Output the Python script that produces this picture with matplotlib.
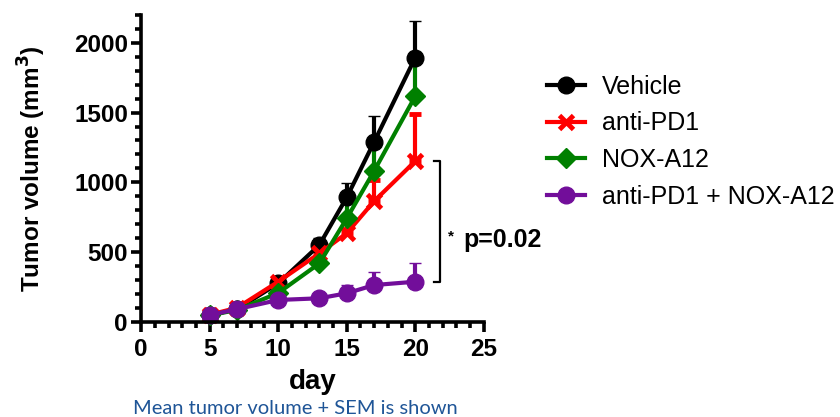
import matplotlib
matplotlib.use("Agg")
import matplotlib.pyplot as plt
from matplotlib.ticker import MultipleLocator

days = [5, 7, 10, 13, 15, 17, 20]
vehicle = [48, 90, 275, 550, 892, 1290, 1895]
vehicle_sem = [10, 15, 30, 50, 105, 185, 265]
antipd1 = [50, 100, 287, 490, 635, 865, 1152]
antipd1_sem = [10, 15, 25, 40, 120, 150, 335]
nox = [45, 85, 206, 418, 741, 1082, 1618]
nox_sem = [8, 12, 25, 108, 155, 244, 317]
combo = [48, 90, 156, 168, 204, 263, 287]
combo_sem = [8, 10, 15, 15, 59, 95, 131]
labels = ["Vehicle", "anti-PD1", "NOX-A12", "anti-PD1 + NOX-A12"]
colors = ["#000000", "#FF0000", "#008000", "#720E9A"]
markers = ["o", "x", "D", "o"]

plt.rcParams['font.family'] = ['Liberation Sans', 'DejaVu Sans']

fig = plt.figure(figsize=(8.4, 4.17), dpi=100)
ax = fig.add_axes([0.168, 0.2285, 0.408, 0.7355])

series = [(vehicle, vehicle_sem), (antipd1, antipd1_sem), (nox, nox_sem), (combo, combo_sem)]
handles = []
for (vals, sem), lab, c, m in zip(series, labels, colors, markers):
    ms = 12 if m == "o" else (10 if m == "D" else 10.5)
    mew = 3.5 if m == "x" else 1
    cont = ax.errorbar(days, vals, yerr=[[0]*len(sem), sem], color=c, lw=3,
                       marker=m, ms=ms, mew=mew, mec=c, mfc=c,
                       capsize=4.5, capthick=3, elinewidth=3, label=lab, clip_on=False)
    handles.append(cont[0])

ax.set_xlim(0, 25)
ax.set_ylim(0, 2200)
ax.xaxis.set_major_locator(MultipleLocator(5))
ax.xaxis.set_minor_locator(MultipleLocator(1))
ax.yaxis.set_major_locator(MultipleLocator(500))
ax.yaxis.set_minor_locator(MultipleLocator(100))
for s in ["top", "right"]:
    ax.spines[s].set_visible(False)
for s in ["left", "bottom"]:
    ax.spines[s].set_linewidth(2.6)
ax.tick_params(which="major", length=7.5, width=2.6, labelsize=17.5, pad=2)
ax.tick_params(axis="x", which="major", pad=4)
ax.tick_params(which="minor", length=4.5, width=2.6)
for t in ax.get_xticklabels() + ax.get_yticklabels():
    t.set_fontweight("bold")
ax.set_xlabel("day", fontsize=20, fontweight="bold", labelpad=6)
ax.set_ylabel("Tumor volume (mm$^\\mathbf{3}$)", fontsize=17.5, fontweight="bold", labelpad=19)

# significance bracket
bx = 21.8
ax.plot([bx - 0.4, bx, bx, bx - 0.4], [antipd1[-1], antipd1[-1], combo[-1], combo[-1]],
        color="black", lw=1.6, clip_on=False)
fig.text(0.533, 1 - 236/417, "*", fontsize=11, fontweight="bold", va="center", ha="left")
fig.text(0.552, 1 - 240/417, "p=0.02", fontsize=18, fontweight="bold", va="center", ha="left")

leg = ax.legend(handles=handles, labels=labels, loc="upper left",
                bbox_to_anchor=(547/840, 1 - 75/417), bbox_transform=fig.transFigure,
                frameon=False, fontsize=18, handlelength=1.5, labelspacing=0.5,
                handletextpad=0.7, borderpad=0, borderaxespad=0)

fig.text(295/840, 1 - 408/417, "Mean tumor volume + SEM is shown", fontsize=14.5,
         color="#1F5597", family=["Lato", "DejaVu Sans"], ha="center", va="center")

fig.savefig("out.png", dpi=100)
